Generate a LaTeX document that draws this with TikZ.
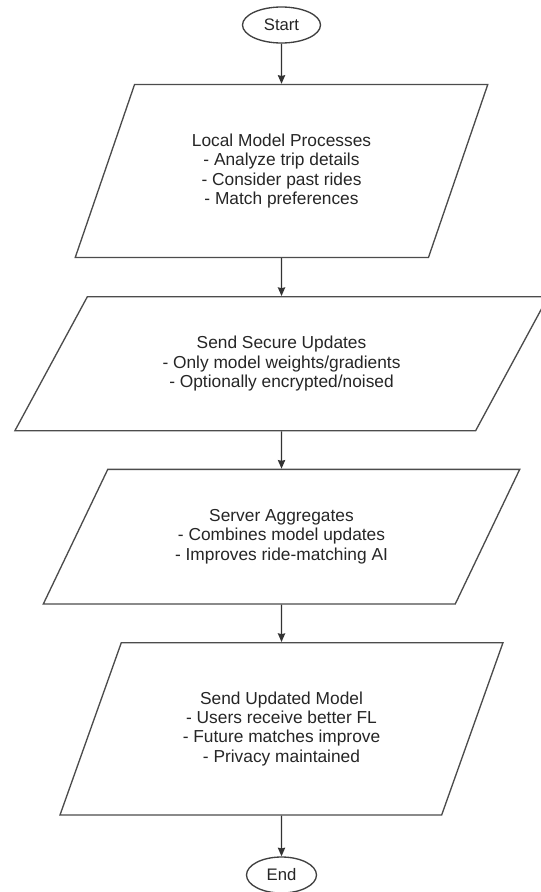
\documentclass[tikz,border=0pt]{standalone}
\usepackage{fontspec}
\setmainfont{Liberation Sans}
\usetikzlibrary{shapes.geometric}
\usetikzlibrary{arrows.meta}
\tikzset{
	termstyle/.style={ellipse, draw=black!75, line width=1pt, fill=white, text=black!85,
		inner sep=0pt, minimum height=27pt, font=\fontsize{12.5}{14}\selectfont},
	iostyle/.style={trapezium, trapezium stretches=true, draw=black!70, line width=1pt,
		fill=white, text=black!85, inner sep=0pt, align=center,
		font=\fontsize{13}{14.5}\selectfont},
	flowline/.style={draw=black!80, line width=1pt, -{Stealth[length=6.5pt, width=5.5pt, inset=0.6pt]}}
}

\begin{document}
\begin{tikzpicture}[x=0.75pt, y=-0.75pt]
	\useasboundingbox (0,0) rectangle (540,892);
	\node[termstyle, minimum width=58.5pt] (start) at (281.5,25) {Start};
	\node[iostyle, minimum width=309.75pt, minimum height=129.75pt,
		trapezium left angle=64, trapezium right angle=116] (local) at (281.5,171)
		{Local Model Processes\\- Analyze trip details\\- Consider past rides\\- Match preferences};
	\node[iostyle, minimum width=400.5pt, minimum height=100.5pt,
		trapezium left angle=51, trapezium right angle=129] (send) at (281.5,363.7)
		{Send Secure Updates\\- Only model weights/gradients\\- Optionally encrypted/noised};
	\node[iostyle, minimum width=357.75pt, minimum height=101pt,
		trapezium left angle=54, trapezium right angle=126] (server) at (281.5,536.7)
		{Server Aggregates\\- Combines model updates\\- Improves ride-matching AI};
	\node[iostyle, minimum width=332.25pt, minimum height=129.2pt,
		trapezium left angle=63, trapezium right angle=117] (update) at (281.5,728.8)
		{Send Updated Model\\- Users receive better FL\\- Future matches improve\\- Privacy maintained};
	\node[termstyle, minimum width=52.5pt] (end) at (281.5,875) {End};
	\draw[flowline] (start)--(local);
	\draw[flowline] (local)--(send);
	\draw[flowline] (send)--(server);
	\draw[flowline] (server)--(update);
	\draw[flowline] (update)--(end);
\end{tikzpicture}
\end{document}
